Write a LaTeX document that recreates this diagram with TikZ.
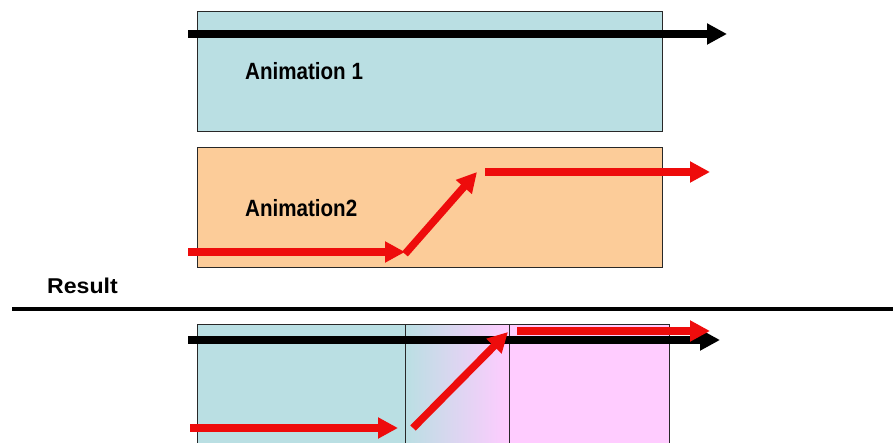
\documentclass[tikz,border=0pt]{standalone}
\usepackage{fontspec}
\setmainfont{Liberation Sans}
\usetikzlibrary{arrows.meta}

\definecolor{aquafill}{RGB}{186,223,227}
\definecolor{peachfill}{RGB}{252,204,153}
\definecolor{pinkfill}{RGB}{255,204,255}
\definecolor{arrowred}{RGB}{238,12,12}
\definecolor{frame}{RGB}{40,40,40}

\tikzset{
  panel/.style={draw=frame, line width=1pt, inner sep=0pt, outer sep=0pt, anchor=north west},
  label/.style={font=\bfseries\fontsize{21}{24}\selectfont, inner sep=0pt, anchor=base west},
  blackarrow/.style={draw=black, line width=7.5pt, -{Triangle[length=20pt,width=20pt]}},
  redarrow/.style={draw=arrowred, line width=7.5pt, -{Triangle[length=20pt,width=20pt]}},
}

\begin{document}
\begin{tikzpicture}[x=1pt,y=-1pt]
\useasboundingbox (0,0) rectangle (893,443);
\fill[white] (0,0) rectangle (893,443);
\clip (0,0) rectangle (893,443);

% Animation 1 panel
\node[panel, fill=aquafill, minimum width=465pt, minimum height=120pt] (anim1) at (197,12) {};
\node[label] (anim1label) at (245,80) {\scalebox{0.98}[1.12]{Animation 1}};
\coordinate (a1start) at (188,34);
\coordinate (a1end) at (727,34);
\draw[blackarrow] (a1start) -- (a1end);

% Animation 2 panel
\node[panel, fill=peachfill, minimum width=465pt, minimum height=120pt] (anim2) at (197,148) {};
\node[label] (anim2label) at (245,217) {\scalebox{0.98}[1.12]{Animation2}};
\coordinate (a2p) at (188,252);
\coordinate (a2q) at (405,252);
\coordinate (a2r) at (405,254);
\coordinate (a2s) at (477,172);
\coordinate (a2t) at (485,172);
\coordinate (a2u) at (710,172);
\draw[redarrow] (a2p) -- (a2q);
\draw[redarrow] (a2r) -- (a2s);
\draw[redarrow] (a2t) -- (a2u);

% Result heading and rule
\node[label] (resultlabel) at (47,294) {\scalebox{1.1}[1.02]{Result}};
\coordinate (ruleL) at (12,309);
\coordinate (ruleR) at (893,309);
\draw[line width=4pt] (ruleL) -- (ruleR);

% Combined panel: first part, blend, second part
\node[panel, fill=aquafill, minimum width=208pt, minimum height=140pt] (resA) at (197,324) {};
\node[panel, left color=aquafill, right color=pinkfill, minimum width=104pt, minimum height=140pt] (resB) at (405,324) {};
\node[panel, fill=pinkfill, minimum width=160pt, minimum height=140pt] (resC) at (509,324) {};

\coordinate (r1start) at (188,340);
\coordinate (r1end) at (720,340);
\draw[blackarrow] (r1start) -- (r1end);

\coordinate (r2p) at (190,428);
\coordinate (r2q) at (398,428);
\coordinate (r2r) at (413,428);
\coordinate (r2s) at (508,332);
\coordinate (r2t) at (517,331);
\coordinate (r2u) at (710,331);
\draw[redarrow] (r2p) -- (r2q);
\draw[redarrow] (r2r) -- (r2s);
\draw[redarrow] (r2t) -- (r2u);
\end{tikzpicture}
\end{document}
